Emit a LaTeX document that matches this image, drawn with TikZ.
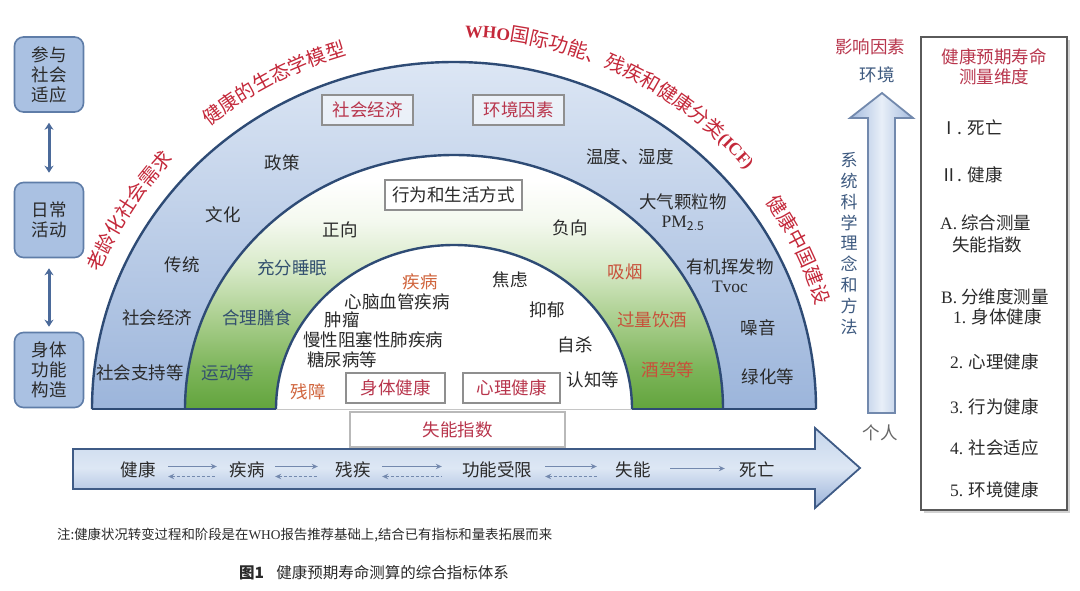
\documentclass[tikz,border=0pt]{standalone}
\usepackage{fontspec}
\setmainfont{Noto Sans CJK SC}
\newfontfamily\lat{Liberation Serif}
\usetikzlibrary{arrows.meta,decorations.text,calc}
\definecolor{ink}{HTML}{2A2A2A}
\definecolor{arcred}{HTML}{C4283A}
\definecolor{boxred}{HTML}{B8354C}
\definecolor{navyl}{HTML}{2E4B75}
\definecolor{btop}{HTML}{DCE6F4}
\definecolor{bbot}{HTML}{9CB5DB}
\definecolor{gbot}{HTML}{62A43D}
\definecolor{ga}{HTML}{7DB55A}
\definecolor{gb}{HTML}{ABCF8F}
\definecolor{gc}{HTML}{D8EAC9}
\definecolor{gd}{HTML}{F4F9EF}
\definecolor{lfill}{HTML}{AAC1E2}
\definecolor{lborder}{HTML}{5F7DA8}
\definecolor{darrow}{HTML}{4B6A9A}
\definecolor{slate}{HTML}{33506F}
\definecolor{warm}{HTML}{C8503A}
\definecolor{orng}{HTML}{D0643C}
\definecolor{bluetxt}{HTML}{3E5A80}
\definecolor{agray}{HTML}{7489AE}
\definecolor{ha}{HTML}{C6D6EC}
\definecolor{hb}{HTML}{DDE7F4}
\definecolor{hc}{HTML}{9AB2D9}
\definecolor{harrowline}{HTML}{3F5B86}
\definecolor{va}{HTML}{A3BADE}
\definecolor{vb}{HTML}{E8EFF8}
\definecolor{vline}{HTML}{7289AD}
\definecolor{gline}{HTML}{8F8F8F}
\definecolor{rline}{HTML}{5A5A5A}
\pgfdeclareverticalshading{greenband}{100bp}{color(0bp)=(gbot); color(25bp)=(gbot); color(33bp)=(ga); color(43bp)=(gb); color(53bp)=(gc); color(62bp)=(gd); color(70bp)=(white); color(100bp)=(white)}
\newcommand\arcfont{\fontsize{19.5}{20}\selectfont}
\newcommand\arclat{\fontsize{17.5}{20}\selectfont\lat\bfseries}
\begin{document}
\begin{tikzpicture}[x=1pt,y=1pt,
  txt/.style={font=\fontsize{17.5}{20}\selectfont, text=ink, inner sep=0pt, align=center},
  redtxt/.style={txt, text=boxred},
  gbox/.style={draw=gline, line width=1.8pt, fill=white, inner sep=0pt},
  lbox/.style={draw=lborder, fill=lfill, line width=1.6pt, rounded corners=9pt, minimum width=69pt, minimum height=75pt, align=center, inner sep=0pt, font=\fontsize{17.5}{20}\selectfont, text=ink},
  navyline/.style={draw=navyl, line width=2.4pt},
  dbl/.style={{Stealth[length=7pt,width=9pt]}-{Stealth[length=7pt,width=9pt]}, draw=darrow, line width=3pt},
  fwd/.style={-{Stealth[length=6pt,width=5.5pt]}, draw=agray, line width=1.5pt},
  bwd/.style={{Stealth[length=6pt,width=5.5pt]}-, draw=agray, line width=1.5pt, dash pattern=on 3pt off 2pt},
]
\useasboundingbox (0,0) rectangle (1080,-590);
\fill[white] (0,0) rectangle (1080,-590);
\coordinate (C) at (454,-409);

% ---- bands
\shade[top color=btop, bottom color=bbot] (92,-409) arc[start angle=180,end angle=0,x radius=362,y radius=347] -- cycle;
\shade[shading=greenband] (185,-409) arc[start angle=180,end angle=0,x radius=269,y radius=254] -- cycle;
\fill[white] (276,-409) arc[start angle=180,end angle=0,x radius=178,y radius=164] -- cycle;
\draw[navyline] (92,-409) arc[start angle=180,end angle=0,x radius=362,y radius=347];
\draw[navyline] (185,-409) arc[start angle=180,end angle=0,x radius=269,y radius=254];
\draw[navyline] (276,-409) arc[start angle=180,end angle=0,x radius=178,y radius=164];
\draw[navyline] (92,-409) -- (276,-409);
\draw[navyline] (632,-409) -- (816,-409);
\draw[gray!45, line width=1pt] (276,-409) -- (632,-409);

% ---- arc labels
\path[decorate, decoration={text along path, text align=center, text color=arcred, text={|\arcfont|老龄化社会需求}}]
  ($(C)+(162:381 and 369)$) arc[start angle=162,end angle=133.8,x radius=381,y radius=369];
\path[decorate, decoration={text along path, text align=center, text color=arcred, text={|\arcfont|健康的生态学模型}}]
  ($(C)+(133:381 and 369)$) arc[start angle=133,end angle=103.4,x radius=381,y radius=369];
\path[decorate, decoration={text along path, text align=center, text color=arcred, text={|\arclat|WHO|\arcfont\rmfamily\mdseries|国际功能、残疾和健康分类|\arclat|(ICF)}}]
  ($(C)+(95:381 and 372)$) arc[start angle=95,end angle=33.2,x radius=381,y radius=372];
\path[decorate, decoration={text along path, text align=center, text color=arcred, text={|\arcfont|健康中国建设}}]
  ($(C)+(40:378 and 366)$) arc[start angle=40,end angle=10.7,x radius=378,y radius=366];

% ---- outer band text
\node[redtxt, gbox, fill opacity=0.55, text opacity=1, minimum width=91pt, minimum height=30pt] (se) at (367.5,-110) {社会经济};
\node[redtxt, gbox, fill opacity=0.55, text opacity=1, minimum width=91pt, minimum height=30pt] (hj) at (518.5,-110) {环境因素};
\node[txt] (zc) at (282,-163) {政策};
\node[txt] (wh) at (223,-215) {文化};
\node[txt] (ct) at (182,-265) {传统};
\node[txt] (sj) at (157,-318) {社会经济};
\node[txt] (sz) at (140,-373) {社会支持等};
\node[txt] (wd) at (630,-157) {温度、湿度};
\node[txt] (dq) at (683,-202) {大气颗粒物};
\node[txt, font=\fontsize{17.5}{20}\selectfont\lat] (pm) at (683,-223) {PM$_{\mathrm{2.5}}$};
\node[txt] (yj) at (730,-267) {有机挥发物};
\node[txt, font=\fontsize{17.5}{20}\selectfont\lat] (tv) at (730,-287) {Tvoc};
\node[txt] (zy) at (758,-328) {噪音};
\node[txt] (lh) at (768,-377) {绿化等};

% ---- green band text
\node[txt, gbox, minimum width=137pt, minimum height=30pt] (xw) at (453.5,-195) {行为和生活方式};
\node[txt] (zx) at (340,-230) {正向};
\node[txt] (fx) at (570,-228) {负向};
\node[txt, text=slate] (sm) at (292,-268) {充分睡眠};
\node[txt, text=slate] (ss) at (257,-318) {合理膳食};
\node[txt, text=slate] (yd) at (228,-373) {运动等};
\node[txt, text=warm] (xy) at (625,-272) {吸烟};
\node[txt, text=warm] (yjiu) at (652,-320) {过量饮酒};
\node[txt, text=warm] (jj) at (668,-370) {酒驾等};

% ---- inner text
\node[txt, text=orng] (jb) at (420,-282) {疾病};
\node[txt] (xn) at (397,-302) {心脑血管疾病};
\node[txt] (zl) at (342,-320) {肿瘤};
\node[txt] (mx) at (373,-340) {慢性阻塞性肺疾病};
\node[txt] (tn) at (342,-360) {糖尿病等};
\node[txt] (jl) at (510,-280) {焦虑};
\node[txt] (yy) at (547,-310) {抑郁};
\node[txt] (zs) at (575,-345) {自杀};
\node[txt] (rz) at (593,-380) {认知等};
\node[txt, text=orng] (cz) at (308,-392) {残障};
\node[redtxt, gbox, minimum width=99pt, minimum height=30pt] (st) at (395.5,-388) {身体健康};
\node[redtxt, gbox, minimum width=97pt, minimum height=30pt] (xl) at (511.5,-388) {心理健康};
\node[redtxt, gbox, draw=gray!55, minimum width=215pt, minimum height=35pt] (sn) at (457.5,-429.5) {失能指数};

% ---- left boxes
\node[lbox] (b1) at (49,-74.5) {参与\\社会\\适应};
\node[lbox] (b2) at (49,-220) {日常\\活动};
\node[lbox] (b3) at (49,-370) {身体\\功能\\构造};
\draw[dbl, shorten <=10pt, shorten >=9pt] (b1.south) -- (b2.north);
\draw[dbl, shorten <=10pt, shorten >=5pt] (b2.south) -- (b3.north);

% ---- bottom arrow
\shade[top color=ha, bottom color=hc, middle color=hb] (73,-449) -- (815,-449) -- (815,-428) -- (860,-468) -- (815,-508) -- (815,-489) -- (73,-489) -- cycle;
\draw[harrowline, line width=1.8pt, line join=miter] (73,-449) -- (815,-449) -- (815,-428) -- (860,-468) -- (815,-508) -- (815,-489) -- (73,-489) -- cycle;
\node[txt] (s1) at (138,-470) {健康};
\node[txt] (s2) at (247,-470) {疾病};
\node[txt] (s3) at (353,-470) {残疾};
\node[txt] (s4) at (497,-470) {功能受限};
\node[txt] (s5) at (633,-470) {失能};
\node[txt] (s6) at (757,-470) {死亡};
\draw[fwd, shorten <=12.5pt, shorten >=12.5pt] ([yshift=3.5pt]s1.east) -- ([yshift=3.5pt]s2.west);
\draw[bwd, shorten <=12.5pt, shorten >=12.5pt] ([yshift=-6.5pt]s1.east) -- ([yshift=-6.5pt]s2.west);
\draw[fwd, shorten <=10.5pt, shorten >=17.5pt] ([yshift=3.5pt]s2.east) -- ([yshift=3.5pt]s3.west);
\draw[bwd, shorten <=10.5pt, shorten >=17.5pt] ([yshift=-6.5pt]s2.east) -- ([yshift=-6.5pt]s3.west);
\draw[fwd, shorten <=11.5pt, shorten >=20pt] ([yshift=3.5pt]s3.east) -- ([yshift=3.5pt]s4.west);
\draw[bwd, shorten <=11.5pt, shorten >=20pt] ([yshift=-6.5pt]s3.east) -- ([yshift=-6.5pt]s4.west);
\draw[fwd, shorten <=13pt, shorten >=18.5pt] ([yshift=3.5pt]s4.east) -- ([yshift=3.5pt]s5.west);
\draw[bwd, shorten <=13pt, shorten >=18.5pt] ([yshift=-6.5pt]s4.east) -- ([yshift=-6.5pt]s5.west);
\draw[fwd, shorten <=19.5pt, shorten >=14.5pt] ([yshift=1.5pt]s5.east) -- ([yshift=1.5pt]s6.west);

% ---- vertical arrow
\shade[left color=va, right color=va, middle color=vb] (868,-413) -- (868,-118) -- (850,-118) -- (882,-93) -- (913,-118) -- (895,-118) -- (895,-413) -- cycle;
\draw[vline, line width=1.8pt, line join=miter] (868,-413) -- (868,-118) -- (850,-118) -- (882,-93) -- (913,-118) -- (895,-118) -- (895,-413) -- cycle;
\node[redtxt] (yx) at (870,-47) {影响因素};
\node[txt, text=bluetxt] (hjt) at (877,-75) {环境};
\node[txt, text=bluetxt, font=\fontsize{17}{20.9}\selectfont] (xt) at (849,-243.5) {系\\统\\科\\学\\理\\念\\和\\方\\法};
\node[txt, text=gray!80!black] (gr) at (880,-433) {个人};

% ---- right box
\fill[gray!35] (924,-40) rectangle (1070,-513);
\node[draw=rline, fill=white, line width=1.8pt, minimum width=146pt, minimum height=473pt, inner sep=0pt] (rb) at (994,-273.5) {};
\node[redtxt] (rt) at (994,-67) {健康预期寿命\\测量维度};
\node[txt, anchor=west] (r1) at (940,-128) {Ⅰ. 死亡};
\node[txt, anchor=west] (r2) at (940,-175) {Ⅱ. 健康};
\node[txt, anchor=west] (r3) at (940,-223) {{\lat A.} 综合测量};
\node[txt, anchor=west] (r4) at (952,-245) {失能指数};
\node[txt, anchor=west] (r5) at (941,-297) {{\lat B.} 分维度测量};
\node[txt, anchor=west] (r6) at (953,-317) {{\lat 1.} 身体健康};
\node[txt, anchor=west] (r7) at (950,-362) {{\lat 2.} 心理健康};
\node[txt, anchor=west] (r8) at (950,-407) {{\lat 3.} 行为健康};
\node[txt, anchor=west] (r9) at (950,-448) {{\lat 4.} 社会适应};
\node[txt, anchor=west] (r10) at (950,-490) {{\lat 5.} 环境健康};

% ---- caption
\node[txt, anchor=west, font=\fontsize{13.4}{16}\selectfont] (note) at (57,-535) {注:健康状况转变过程和阶段是在{\lat WHO}报告推荐基础上,结合已有指标和量表拓展而来};
\node[txt, font=\fontsize{15.5}{18}\selectfont] (title) at (374,-573) {{\bfseries 图1}\hspace{0.8em}健康预期寿命测算的综合指标体系};
\end{tikzpicture}
\end{document}
